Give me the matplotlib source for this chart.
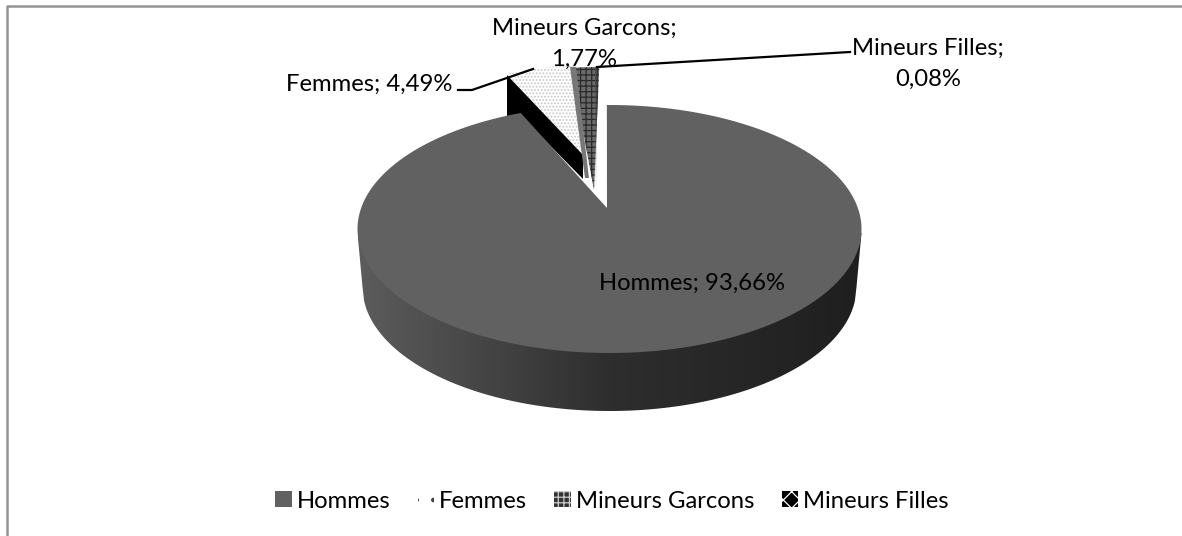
import numpy as np
import matplotlib
matplotlib.use('Agg')
import matplotlib.pyplot as plt
from matplotlib.colors import LinearSegmentedColormap
from matplotlib.patches import Patch, Polygon

plt.rcParams['font.family'] = ['Lato', 'DejaVu Sans']
plt.rcParams['hatch.linewidth'] = 0.9

# parts du total en %
categories = ['Hommes', 'Femmes', 'Mineurs Garcons', 'Mineurs Filles']
values = [93.66, 4.49, 1.77, 0.08]
labels = ['93,66%', '4,49%', '1,77%', '0,08%']

fig = plt.figure(figsize=(11.82, 5.36), dpi=100)
ax = fig.add_axes([0, 0, 1, 1])
ax.axis('off')

# cadre
ax.plot([7, 7, 1182], [536, 5.5, 5.5], color='#949494', lw=1.8)

cx, cy, rx, ry = 609.5, 229, 252, 124
rx_bas, y_bas = 247, 287


def arc(a0, a1, dx=0, dy=0, n=200):
    t = np.radians(np.linspace(a0, a1, n))
    return cx + dx + rx * np.sin(t), cy + dy - ry * np.cos(t)


# angles depuis le haut, sens horaire, Hommes part de 0
edges = np.cumsum([0] + values) * 3.6

# flanc du camembert avec degrade
xs = np.linspace(cx - rx_bas, cx + rx_bas, 300)
t = np.sqrt(np.clip(1 - ((xs - cx) / rx_bas) ** 2, 0, 1))
grad = np.linspace(0, 1, 256)[None, :]
cmap = LinearSegmentedColormap.from_list('g', ['#5c5c5c', '#2e2e2e', '#1f1f1f'])
im = ax.imshow(grad, extent=[cx - rx, cx + rx, 536, 0], cmap=cmap, aspect='auto', zorder=1)
ax.set_xlim(0, 1182)
ax.set_ylim(536, 0)
side = np.r_[[[cx - rx, cy + 4]], np.c_[xs, y_bas + ry * t], [[cx + rx, cy + 4]]]
clip = Polygon(side, transform=ax.transData, fc='none', ec='none')
ax.add_patch(clip)
im.set_clip_path(clip)

# dessus Hommes (petit decalage de perspective sur les bords)
x, y = arc(edges[0] - 0.6, edges[1] + 2.2)
ax.fill(np.r_[607, x], np.r_[208, y], color='#616161', zorder=2, lw=0)

# Femmes, detachee
x, y = arc(edges[1], edges[2], -5, -41)
ax.fill([507, 507, 530, 583, 583], [75, 125, 125, 179, 155], color='black', zorder=1.5, lw=0)
ax.fill(np.r_[582, x], np.r_[155, y], facecolor='white', edgecolor='#c8c8c8', hatch='.....', zorder=1.4, lw=0)

# Mineurs Garcons, detachee
x, y = arc(edges[2], edges[3], -9, -38)
ax.fill([570, 576, 589, 585], [67, 67, 178, 178], color='#777777', zorder=3, lw=0)
ax.fill(np.r_[594, x], np.r_[190, y], facecolor='#6a6a6a', edgecolor='#2a2a2a', hatch='+++', zorder=2.9, lw=0)

# Mineurs Filles, tres fine
x, y = arc(edges[3], edges[4], -13, -38)
ax.fill(np.r_[596, x], np.r_[192, y], facecolor='#444444', zorder=3, lw=0)

# traits de rappel
ax.plot([458, 472, 533], [90, 90, 69], color='black', lw=1.6, zorder=5)
ax.plot([597, 850], [67, 52], color='black', lw=1.6, zorder=5)

fs = 17.2
ax.text(692, 283, categories[0] + '; ' + labels[0], ha='center', va='center', fontsize=fs, zorder=6)
ax.text(369.5, 84, categories[1] + '; ' + labels[1], ha='center', va='center', fontsize=fs, zorder=6)
ax.text(584, 44, categories[2] + ';\n' + labels[2], ha='center', va='center', fontsize=fs, zorder=6, linespacing=1.55)
ax.text(928, 64, categories[3] + ';\n' + labels[3], ha='center', va='center', fontsize=fs, zorder=6, linespacing=1.55)

# legende
handles = [Patch(facecolor='#616161', edgecolor='none'),
           Patch(facecolor='white', edgecolor='#444444', hatch=' .', lw=0),
           Patch(facecolor='#333333', edgecolor='#cccccc', hatch='+++', lw=0),
           Patch(facecolor='black', edgecolor='white', hatch='xx', lw=0)]
ax.legend(handles, categories, ncol=4, loc='center', bbox_to_anchor=(612 / 1182, 1 - 501 / 536),
          frameon=False, fontsize=fs, handlelength=0.68, handleheight=0.68,
          handletextpad=0.22, columnspacing=1.14)

fig.savefig('out.png', dpi=100)
